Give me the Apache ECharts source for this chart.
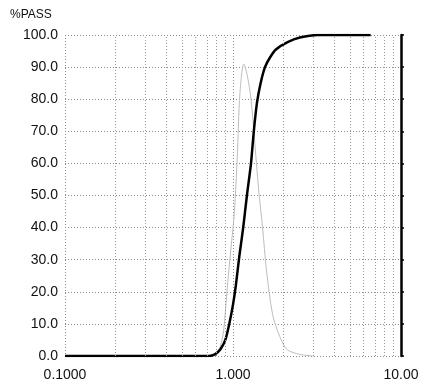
<!DOCTYPE html>
<html>
<head>
<meta charset="utf-8">
<script src="https://cdn.jsdelivr.net/npm/echarts@6/dist/echarts.min.js"></script>
<style>
  html, body { margin: 0; padding: 0; background: #fff; }
  #main { width: 422px; height: 385px; }
</style>
</head>
<body>
<div id="main"></div>
<script>
// cumulative % passing (black curve)
const passSize = [0.1, 0.5, 0.72, 0.78, 0.84, 0.9, 0.95, 1.0, 1.04, 1.09, 1.15, 1.21, 1.28, 1.33, 1.39, 1.46, 1.55, 1.66, 1.8, 2.1, 2.5, 3.2, 6.6];
const passPct = [0, 0, 0, 0.5, 2, 5, 10, 16, 22, 31, 40, 50, 60, 70, 79, 85, 90, 93, 95.5, 97.7, 99.2, 100, 100];

// frequency curve (grey)
const freqSize = [0.78, 0.84, 0.88, 0.92, 0.97, 1.02, 1.06, 1.1, 1.16, 1.22, 1.28, 1.34, 1.42, 1.5, 1.58, 1.72, 1.9, 2.1, 2.5, 3.0];
const freqPct = [0, 3, 8, 20, 33, 45, 62, 82, 91, 87, 80, 68, 52, 40, 27, 13, 6, 2, 0.5, 0];

// axis labels
const xTickLabels = { '0.1': '0.1000', '1': '1.000', '10': '10.00' };
const minorGrid = [0.2, 0.3, 0.4, 0.5, 0.6, 0.7, 0.8, 0.9, 2, 3, 4, 5, 6, 7, 8, 9];

const chart = echarts.init(document.getElementById('main'));

const gridDot = { color: '#8a8a8a', type: [1, 2], width: 1 };

chart.setOption({
  animation: false,
  textStyle: { fontFamily: 'Liberation Sans, Arial, sans-serif' },
  title: {
    text: '%PASS',
    left: 5, top: 4,
    textStyle: { fontSize: 12, fontWeight: 'normal', color: '#111' }
  },
  grid: { left: 65, right: 21, top: 35, bottom: 29 },
  xAxis: {
    type: 'log',
    logBase: 10,
    min: 0.1,
    max: 10,
    axisLine: { show: false },
    axisTick: { show: false },
    axisLabel: {
      fontSize: 14, color: '#111', margin: 12,
      formatter: v => xTickLabels[String(+v.toPrecision(3))] || ''
    },
    splitLine: { show: true, lineStyle: gridDot }
  },
  yAxis: [{
    type: 'value',
    min: 0, max: 100, interval: 10,
    axisLine: { show: false },
    axisTick: { show: false },
    axisLabel: { fontSize: 14, color: '#111', margin: 7, formatter: v => v.toFixed(1) },
    splitLine: { show: true, lineStyle: gridDot }
  }, {
    type: 'value',
    position: 'right',
    min: 0, max: 100, interval: 10,
    axisLine: { show: true, lineStyle: { color: '#000', width: 2.5 } },
    axisTick: { show: true, length: 3, lineStyle: { color: '#000', width: 1.5 } },
    axisLabel: { show: false },
    splitLine: { show: false }
  }],
  series: [{
    type: 'line',
    data: freqSize.map((s, i) => [s, freqPct[i]]),
    showSymbol: false,
    smooth: 0.3,
    lineStyle: { color: '#bdbdbd', width: 1 },
    markLine: {
      silent: true,
      symbol: 'none',
      label: { show: false },
      lineStyle: { color: '#9a9a9a', type: [1, 2], width: 1 },
      data: minorGrid.map(v => ({ xAxis: v }))
    },
    z: 2
  }, {
    type: 'line',
    data: passSize.map((s, i) => [s, passPct[i]]),
    showSymbol: false,
    smooth: 0.2,
    lineStyle: { color: '#000', width: 2.5 },
    z: 3
  }]
});
</script>
</body>
</html>
